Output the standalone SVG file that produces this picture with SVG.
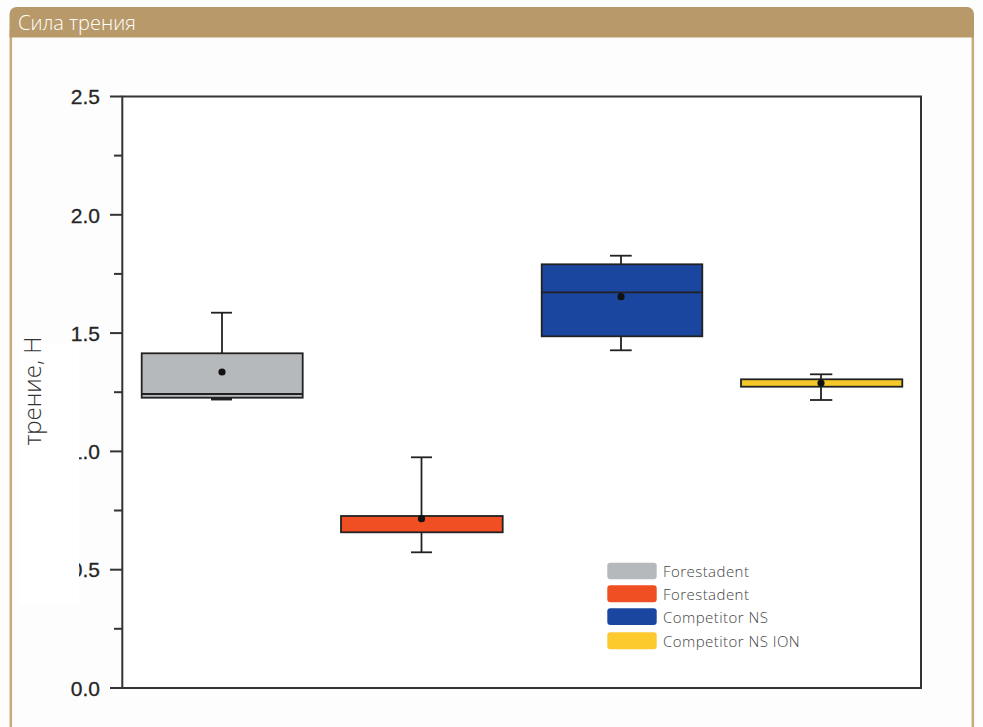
<svg xmlns="http://www.w3.org/2000/svg" width="983" height="727" viewBox="0 0 983 727">
<style>
.frame{fill:none;stroke:#333;stroke-width:2}
.tick{stroke:#333;stroke-width:2}
.tl{font-family:"Liberation Sans",Arial,sans-serif;font-size:21px;fill:#262626;text-anchor:end;stroke:#262626;stroke-width:0.3}
.box{stroke:#222;stroke-width:1.8}
.wh{stroke:#222;stroke-width:1.8;fill:none}
.mean{fill:#111}
.lg{font-family:"Open Sans","Noto Sans",sans-serif;font-size:15px;fill:#444;font-weight:300;letter-spacing:0.45px}
</style>
<rect x="0" y="0" width="983" height="727" fill="#fdfdfd"/>
<g id="panel">
<line x1="10.8" y1="30" x2="10.8" y2="727" stroke="#c9aa7a" stroke-width="2.5"/>
<line x1="972.8" y1="30" x2="972.8" y2="727" stroke="#c9aa7a" stroke-width="2.5"/>
<path d="M9.5 37.5 V14 a7 7 0 0 1 7 -7 H967 a7 7 0 0 1 7 7 V37.5 Z" fill="#b89a6a"/>
<text x="18" y="30" font-family="'Open Sans','Noto Sans',sans-serif" font-weight="300" font-size="20" fill="#ffffff">Сила трения</text>
</g>
<g id="plot">
<rect x="122.3" y="96.5" width="798.7" height="591.5" fill="#ffffff"/>
<rect class="frame" x="122.3" y="96.5" width="798.7" height="591.5"/>
<g id="ticks">
<line class="tick" x1="110" y1="96.5" x2="122" y2="96.5"/>
<line class="tick" x1="114" y1="155.6" x2="122" y2="155.6"/>
<line class="tick" x1="110" y1="214.8" x2="122" y2="214.8"/>
<line class="tick" x1="114" y1="273.9" x2="122" y2="273.9"/>
<line class="tick" x1="110" y1="333.1" x2="122" y2="333.1"/>
<line class="tick" x1="114" y1="392.2" x2="122" y2="392.2"/>
<line class="tick" x1="110" y1="451.4" x2="122" y2="451.4"/>
<line class="tick" x1="114" y1="510.5" x2="122" y2="510.5"/>
<line class="tick" x1="110" y1="569.7" x2="122" y2="569.7"/>
<line class="tick" x1="114" y1="628.8" x2="122" y2="628.8"/>
<line class="tick" x1="110" y1="688" x2="122" y2="688"/>
</g>
<g id="ticklabels">
<text class="tl" x="100" y="104.2">2.5</text>
<text class="tl" x="100" y="222.5">2.0</text>
<text class="tl" x="100" y="340.8">1.5</text>
<text class="tl" x="100" y="459.1">1.0</text>
<text class="tl" x="100" y="577.4">0.5</text>
<text class="tl" x="100" y="695.7">0.0</text>
</g>
<rect x="20" y="343" width="59" height="262" fill="#ffffff"/>
<text transform="translate(41,391) rotate(-90)" text-anchor="middle" font-family="'Open Sans','Noto Sans',sans-serif" font-weight="300" font-size="24" fill="#333">трение, Н</text>
</g>
<g id="connectors">
<line class="wh" x1="222" y1="312.7" x2="222" y2="353.3"/>
<line class="wh" x1="211" y1="312.7" x2="232" y2="312.7"/>
<line class="wh" x1="421.5" y1="457.3" x2="421.5" y2="516"/>
<line class="wh" x1="411" y1="457.3" x2="432" y2="457.3"/>
<line class="wh" x1="421.5" y1="532.3" x2="421.5" y2="552.3"/>
<line class="wh" x1="411" y1="552.3" x2="432" y2="552.3"/>
<line class="wh" x1="621" y1="255.7" x2="621" y2="264.3"/>
<line class="wh" x1="610" y1="255.7" x2="631.7" y2="255.7"/>
<line class="wh" x1="621" y1="336.3" x2="621" y2="350.3"/>
<line class="wh" x1="610" y1="350.3" x2="631.7" y2="350.3"/>
<line class="wh" x1="821" y1="374.3" x2="821" y2="379.3"/>
<line class="wh" x1="810" y1="374.3" x2="832.3" y2="374.3"/>
<line class="wh" x1="821" y1="386.7" x2="821" y2="400"/>
<line class="wh" x1="810" y1="400" x2="832.3" y2="400"/>
</g>
<g id="box-forestadent-gray">
<line x1="211" y1="399.2" x2="232" y2="399.2" stroke="#222" stroke-width="2.5"/>
<rect class="box" x="141.7" y="353.3" width="161" height="44.4" fill="#b5b9bc"/>
<line class="wh" x1="141.7" y1="394" x2="302.7" y2="394"/>
<circle class="mean" cx="222" cy="372" r="3.6"/>
</g>
<g id="box-forestadent-red">
<rect class="box" x="341" y="516" width="161.7" height="16.3" fill="#f04e23"/>
<circle class="mean" cx="421.5" cy="518.7" r="3.6"/>
</g>
<g id="box-competitor-ns">
<rect class="box" x="541.7" y="264.3" width="160.6" height="72" fill="#1b46a0"/>
<line class="wh" x1="541.7" y1="292.3" x2="702.3" y2="292.3"/>
<circle class="mean" cx="621" cy="296.7" r="3.6"/>
</g>
<g id="box-competitor-ns-ion">
<rect class="box" x="741" y="379.3" width="161.3" height="7.4" fill="#f5c928"/>
<circle class="mean" cx="821" cy="383" r="3.6"/>
</g>
<g id="legend">
<rect x="607.3" y="562.7" width="49.4" height="16.6" rx="3" fill="#b5b9bc"/>
<text class="lg" x="663" y="576.5">Forestadent</text>
<rect x="607.3" y="585.3" width="49.4" height="17" rx="3" fill="#f04e23"/>
<text class="lg" x="663" y="599.5">Forestadent</text>
<rect x="607.3" y="608.3" width="49.4" height="16.7" rx="3" fill="#1b46a0"/>
<text class="lg" x="663" y="622.5">Competitor NS</text>
<rect x="607.3" y="632.3" width="49.4" height="17" rx="3" fill="#fdca2e"/>
<text class="lg" x="663" y="646.5">Competitor NS ION</text>
</g>
</svg>
